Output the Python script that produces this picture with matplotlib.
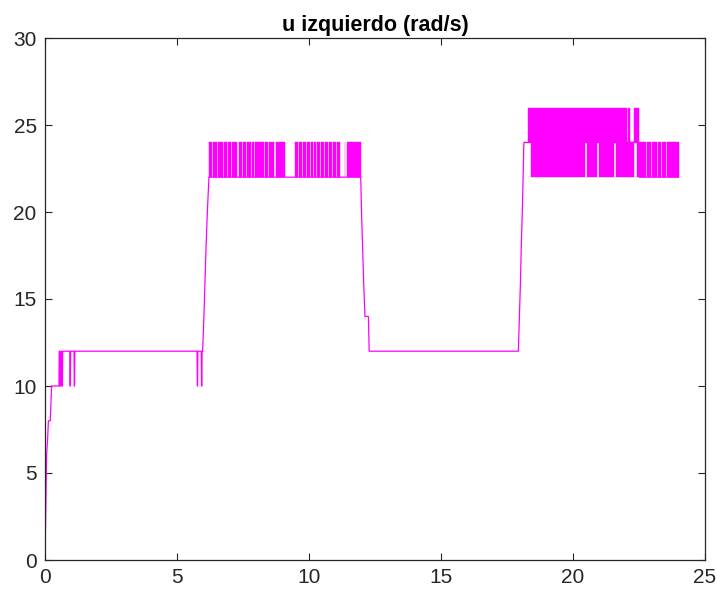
import matplotlib
matplotlib.use("Agg")
import matplotlib.pyplot as plt

# Main trace of the left wheel command (time in s, value in rad/s)
t_base = [0.00, 0.02, 0.04, 0.06, 0.10, 0.13, 0.20, 0.25, 0.53, 0.54,
          0.56, 0.57, 0.60, 0.61, 0.63, 0.64, 0.66, 0.67, 0.94, 0.95,
          0.96, 0.97, 1.10, 1.11, 1.12, 1.13, 5.76, 5.77, 5.78, 5.79,
          5.92, 5.93, 5.94, 5.95, 5.97, 6.02, 6.06, 6.10, 6.15, 6.21,
          11.96, 11.99, 12.03, 12.07, 12.12, 12.25, 12.28, 17.93, 17.97, 18.01,
          18.04, 18.08, 18.11, 18.14, 18.28, 22.50, 22.51, 24.00]
u_base = [0, 2, 4, 6, 7, 8, 8, 10, 10, 12,
          12, 10, 10, 12, 12, 10, 10, 12, 12, 10,
          10, 12, 12, 10, 10, 12, 12, 10, 10, 12,
          12, 10, 10, 12, 12, 14, 16, 18, 20, 22,
          22, 20, 18, 16, 14, 14, 12, 12, 14, 16,
          18, 20, 22, 24, 24, 24, 22, 22]

# Intervals where the command chatters between 22 and 24 (first plateau)
chatter_a_start = [6.21, 6.36, 6.54, 6.79, 6.94, 7.09, 7.33, 7.49, 7.67, 7.84,
                   7.96, 8.16, 8.33, 8.49, 8.74, 8.92, 9.47, 9.62, 9.76, 9.93,
                   10.06, 10.20, 10.29, 10.44, 10.60, 10.74, 10.91, 11.06, 11.35, 11.45]
chatter_a_end = [6.33, 6.51, 6.75, 6.91, 7.06, 7.28, 7.46, 7.62, 7.81, 7.92,
                 8.13, 8.29, 8.46, 8.68, 8.89, 9.10, 9.59, 9.73, 9.88, 10.03,
                 10.17, 10.25, 10.41, 10.56, 10.71, 10.87, 11.03, 11.17, 11.37, 11.96]
chatter_a_levels = (22, 24)

# Second plateau: chatter reaching up to 26
chatter_b_hi_start = [18.28, 22.10, 22.30]
chatter_b_hi_end = [22.06, 22.16, 22.50]
chatter_b_hi_levels = (24, 26)

# Second plateau: chatter dipping down to 22
chatter_b_lo_start = [18.40, 20.53, 21.00, 21.63, 22.41, 22.81, 23.00, 23.23, 23.36, 23.57]
chatter_b_lo_end = [20.45, 20.92, 21.55, 22.32, 22.78, 22.97, 23.17, 23.32, 23.54, 24.00]
chatter_b_lo_levels = (22, 24)

x_ticks = [0, 5, 10, 15, 20, 25]
y_ticks = [0, 5, 10, 15, 20, 25, 30]
title = "u izquierdo (rad/s)"

MAG = (1.0, 0.0, 1.0)
AX_COL = (0.15, 0.15, 0.15)

plt.rcParams["font.family"] = ["Liberation Sans", "DejaVu Sans"]

fig = plt.figure(figsize=(7.17, 5.93), dpi=100)
ax = fig.add_axes([45 / 717, 33 / 593, 660 / 717, 522 / 593])

ax.plot(t_base, u_base, color=MAG, lw=0.9)


def draw_bands(starts, ends, levels):
    lo, hi = levels
    for a, b in zip(starts, ends):
        ax.fill_between([a, b], [lo, lo], [hi, hi], color=MAG, lw=0.3,
                        edgecolor=MAG)


draw_bands(chatter_a_start, chatter_a_end, chatter_a_levels)
draw_bands(chatter_b_hi_start, chatter_b_hi_end, chatter_b_hi_levels)
draw_bands(chatter_b_lo_start, chatter_b_lo_end, chatter_b_lo_levels)

ax.set_xlim(x_ticks[0], x_ticks[-1])
ax.set_ylim(y_ticks[0], y_ticks[-1])
ax.set_xticks(x_ticks)
ax.set_yticks(y_ticks)
ax.tick_params(direction="in", length=5, width=0.8, colors=AX_COL,
               labelsize=15, top=True, right=True, pad=6)
for s in ax.spines.values():
    s.set_color(AX_COL)
    s.set_linewidth(0.9)

ax.set_title(title, fontsize=15.5, fontweight="bold", color="black", pad=5)

fig.savefig("out.png", dpi=100)
